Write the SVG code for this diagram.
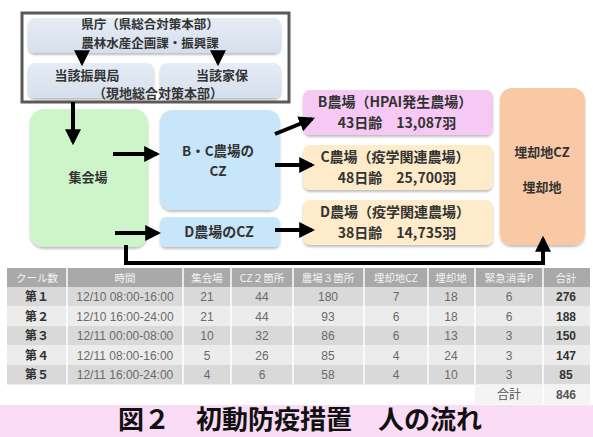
<svg xmlns="http://www.w3.org/2000/svg" width="593" height="437" viewBox="0 0 593 437">
<defs>
<filter id="sh" x="-10%" y="-10%" width="120%" height="130%"><feDropShadow dx="0" dy="2" stdDeviation="1.2" flood-color="#000" flood-opacity="0.25"/></filter>
<marker id="ah" markerWidth="4" markerHeight="4" refX="3.2" refY="2" orient="auto" markerUnits="strokeWidth"><path d="M0,0 L4,2 L0,4 z" fill="#000"/></marker>
<linearGradient id="gb" x1="0" y1="0" x2="0" y2="1"><stop offset="0" stop-color="#e6ecf5"/><stop offset="1" stop-color="#d5dfec"/></linearGradient>
</defs>
<style>
.t{font-family:"Noto Sans CJK JP","Noto Sans",sans-serif;font-weight:bold;fill:#333;text-anchor:middle}
.f13{font-size:13px}
.f14{font-size:14px}
.th{font-family:"Noto Sans CJK JP","Noto Sans",sans-serif;font-size:10.5px;fill:#f4f4f4;text-anchor:middle}
.td{font-family:"Liberation Sans","Noto Sans CJK JP",sans-serif;font-size:12px;fill:#6a6a6a;text-anchor:middle}
.tb{font-family:"Liberation Sans","Noto Sans CJK JP",sans-serif;font-size:12px;font-weight:bold;fill:#333;text-anchor:middle}
.cn{stroke:#000;stroke-width:4;fill:none}
.sep{stroke:#fff;stroke-width:1.5}
</style>
<rect width="593" height="437" fill="#fff"/>

<g id="hq">
<rect x="22" y="13" width="267" height="89" fill="#fff" stroke="#5a5a5a" stroke-width="3"/>
<rect x="28" y="18" width="253" height="35" rx="7" fill="url(#gb)" filter="url(#sh)"/>
<text class="t" style="font-size:12.5px" x="150" y="29">県庁（県総合対策本部）</text>
<text class="t" style="font-size:12.5px" x="150" y="48">農林水産企画課・振興課</text>
</g>
<g id="shinko">
<rect x="28" y="63" width="126" height="35" rx="7" fill="url(#gb)" filter="url(#sh)"/>
<text class="t f13" x="87" y="80">当該振興局</text>
</g>
<g id="kaho">
<rect x="160" y="63" width="121" height="35" rx="7" fill="url(#gb)" filter="url(#sh)"/>
<text class="t f13" x="222" y="80">当該家保</text>
</g>
<text class="t f13" x="158" y="98">（現地総合対策本部）</text>

<g id="shukaijo">
<rect x="30" y="109" width="118" height="138" rx="14" fill="#cdf5c9" filter="url(#sh)"/>
<text class="t f13" x="88" y="182">集会場</text>
</g>
<g id="bc-cz">
<rect x="160" y="110" width="120" height="100" rx="12" fill="#c8e6f9" filter="url(#sh)"/>
<text class="t" style="font-size:13.5px" x="218" y="156">B・C農場の</text>
<text class="t" style="font-size:13.5px" x="218" y="176">CZ</text>
</g>
<g id="d-cz">
<rect x="160" y="217" width="120" height="30" rx="6" fill="#c8e6f9" filter="url(#sh)"/>
<text class="t f14" x="219" y="237">D農場のCZ</text>
</g>
<g id="farm-b">
<rect x="303" y="90" width="190" height="45" rx="7" fill="#f6c9f5" filter="url(#sh)"/>
<text class="t f14" x="395" y="107">B農場（HPAI発生農場）</text>
<text class="t f14" x="397" y="128">43日齢　13,087羽</text>
</g>
<g id="farm-c">
<rect x="303" y="145" width="190" height="45" rx="7" fill="#fdebc9" filter="url(#sh)"/>
<text class="t f14" x="395" y="162">C農場（疫学関連農場）</text>
<text class="t f14" x="397" y="183">48日齢　25,700羽</text>
</g>
<g id="farm-d">
<rect x="303" y="200" width="190" height="45" rx="7" fill="#fdebc9" filter="url(#sh)"/>
<text class="t f14" x="395" y="217">D農場（疫学関連農場）</text>
<text class="t f14" x="397" y="238">38日齢　14,735羽</text>
</g>
<g id="maikyaku">
<rect x="500" y="88" width="85" height="157" rx="12" fill="#f9c9a6" filter="url(#sh)"/>
<text class="t f13" x="542" y="157">埋却地CZ</text>
<text class="t f13" x="542" y="192">埋却地</text>
</g>

<g id="connectors">
<path class="cn" d="M82,53 V63" marker-end="url(#ah)"/>
<path class="cn" d="M218,53 V63" marker-end="url(#ah)"/>
<path class="cn" d="M73,102 V142" marker-end="url(#ah)"/>
<path class="cn" d="M113,154 H157" marker-end="url(#ah)"/>
<path class="cn" d="M115,233 H158" marker-end="url(#ah)"/>
<path class="cn" d="M275,134 L312,119" marker-end="url(#ah)"/>
<path class="cn" d="M275,165 H312" marker-end="url(#ah)"/>
<path class="cn" d="M275,230 H312" marker-end="url(#ah)"/>
<path class="cn" d="M126,245 V263 H543 V239" marker-end="url(#ah)"/>
</g>

<g id="table">
<rect x="7" y="268" width="583" height="19" fill="#a9a9a9"/>
<rect x="7" y="287" width="583" height="19.5" fill="#d9d9d9"/>
<rect x="7" y="306.5" width="583" height="19.5" fill="#ececec"/>
<rect x="7" y="326" width="583" height="19.5" fill="#d9d9d9"/>
<rect x="7" y="345.5" width="583" height="19.5" fill="#ececec"/>
<rect x="7" y="365" width="583" height="19.5" fill="#d9d9d9"/>
<rect x="475" y="384.5" width="115" height="20" fill="#f4f4f4"/>
<g>
<line class="sep" x1="67" y1="268" x2="67" y2="384.5"/>
<line class="sep" x1="183" y1="268" x2="183" y2="384.5"/>
<line class="sep" x1="231" y1="268" x2="231" y2="384.5"/>
<line class="sep" x1="293" y1="268" x2="293" y2="384.5"/>
<line class="sep" x1="364" y1="268" x2="364" y2="384.5"/>
<line class="sep" x1="428" y1="268" x2="428" y2="384.5"/>
<line class="sep" x1="475" y1="268" x2="475" y2="384.5"/>
<line class="sep" x1="543" y1="268" x2="543" y2="404"/>
</g>
<text class="th" x="37" y="282">クール数</text>
<text class="th" x="125" y="282">時間</text>
<text class="th" x="207" y="282">集会場</text>
<text class="th" x="262" y="282">CZ２箇所</text>
<text class="th" x="328" y="282">農場３箇所</text>
<text class="th" x="396" y="282">埋却地CZ</text>
<text class="th" x="451" y="282">埋却地</text>
<text class="th" x="509" y="282">緊急消毒P</text>
<text class="th" x="566" y="282">合計</text>

<text class="tb" x="37" y="301">第１</text><text class="td" x="125" y="301">12/10 08:00-16:00</text><text class="td" x="207" y="301">21</text><text class="td" x="262" y="301">44</text><text class="td" x="328" y="301">180</text><text class="td" x="396" y="301">7</text><text class="td" x="451" y="301">18</text><text class="td" x="509" y="301">6</text><text class="tb" x="566" y="301">276</text>
<text class="tb" x="37" y="320.5">第２</text><text class="td" x="125" y="320.5">12/10 16:00-24:00</text><text class="td" x="207" y="320.5">21</text><text class="td" x="262" y="320.5">44</text><text class="td" x="328" y="320.5">93</text><text class="td" x="396" y="320.5">6</text><text class="td" x="451" y="320.5">18</text><text class="td" x="509" y="320.5">6</text><text class="tb" x="566" y="320.5">188</text>
<text class="tb" x="37" y="340">第３</text><text class="td" x="125" y="340">12/11 00:00-08:00</text><text class="td" x="207" y="340">10</text><text class="td" x="262" y="340">32</text><text class="td" x="328" y="340">86</text><text class="td" x="396" y="340">6</text><text class="td" x="451" y="340">13</text><text class="td" x="509" y="340">3</text><text class="tb" x="566" y="340">150</text>
<text class="tb" x="37" y="359.5">第４</text><text class="td" x="125" y="359.5">12/11 08:00-16:00</text><text class="td" x="207" y="359.5">5</text><text class="td" x="262" y="359.5">26</text><text class="td" x="328" y="359.5">85</text><text class="td" x="396" y="359.5">4</text><text class="td" x="451" y="359.5">24</text><text class="td" x="509" y="359.5">3</text><text class="tb" x="566" y="359.5">147</text>
<text class="tb" x="37" y="379">第５</text><text class="td" x="125" y="379">12/11 16:00-24:00</text><text class="td" x="207" y="379">4</text><text class="td" x="262" y="379">6</text><text class="td" x="328" y="379">58</text><text class="td" x="396" y="379">4</text><text class="td" x="451" y="379">10</text><text class="td" x="509" y="379">3</text><text class="tb" x="566" y="379">85</text>
<text class="td" x="509" y="399" style="fill:#555">合計</text><text class="tb" x="566" y="399" style="fill:#555">846</text>
</g>

<g id="title">
<rect x="0" y="405" width="593" height="32" fill="#fbdcf6"/>
<text x="300" y="429" style="font-family:'Noto Sans CJK JP',sans-serif;font-weight:bold;font-size:26px;fill:#111;text-anchor:middle">図２　初動防疫措置　人の流れ</text>
</g>
</svg>
